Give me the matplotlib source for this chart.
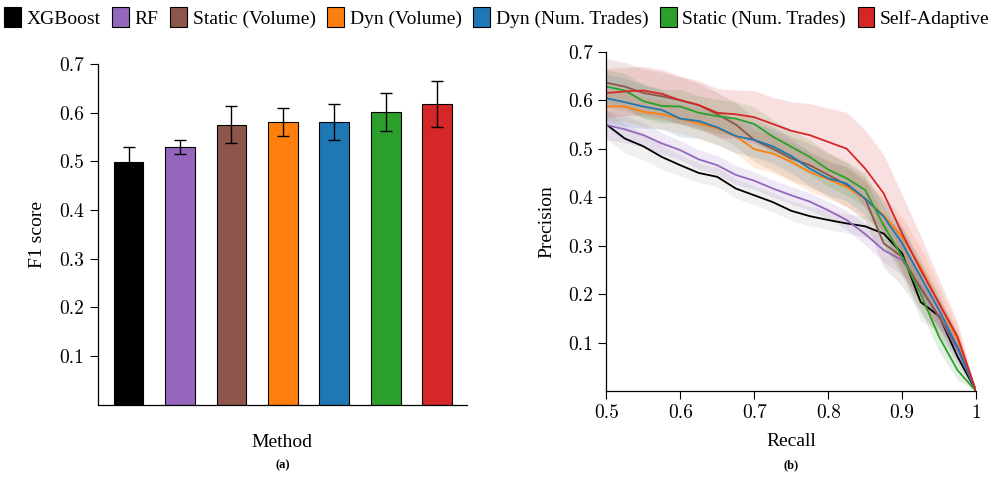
import numpy as np
import matplotlib.pyplot as plt
from matplotlib.patches import Patch

plt.rcParams['font.family'] = ['Liberation Serif', 'DejaVu Serif']
plt.rcParams['font.size'] = 14

# ---- data ----
methods = ["XGBoost", "RF", "Static (Volume)", "Dyn (Volume)",
           "Dyn (Num. Trades)", "Static (Num. Trades)", "Self-Adaptive"]
colors = ["black", "#9467bd", "#8c564b", "#ff7f0e", "#1f77b4", "#2ca02c", "#d62728"]

f1_mean = [0.499, 0.530, 0.576, 0.581, 0.581, 0.602, 0.618]
f1_err = [0.030, 0.014, 0.038, 0.028, 0.037, 0.039, 0.047]

recall = [0.5, 0.525, 0.55, 0.575, 0.6, 0.625, 0.65, 0.675, 0.7, 0.725, 0.75,
          0.775, 0.8, 0.825, 0.85, 0.875, 0.9, 0.925, 0.95, 0.975, 1.0]

prec_xgb = [0.550, 0.521, 0.505, 0.483, 0.466, 0.450, 0.442, 0.418, 0.404, 0.390, 0.372,
            0.361, 0.353, 0.346, 0.340, 0.325, 0.284, 0.184, 0.155, 0.071, 0.0]
prec_rf = [0.549, 0.540, 0.528, 0.511, 0.497, 0.478, 0.466, 0.446, 0.434, 0.418, 0.404,
           0.391, 0.373, 0.353, 0.324, 0.291, 0.270, 0.215, 0.153, 0.085, 0.0]
prec_stat_vol = [0.636, 0.628, 0.615, 0.608, 0.600, 0.590, 0.571, 0.550, 0.518, 0.500, 0.480,
                 0.466, 0.446, 0.425, 0.397, 0.305, 0.277, 0.212, 0.153, 0.091, 0.0]
prec_dyn_vol = [0.587, 0.587, 0.576, 0.571, 0.562, 0.552, 0.542, 0.526, 0.499, 0.490, 0.473,
                0.452, 0.437, 0.421, 0.397, 0.363, 0.318, 0.256, 0.181, 0.105, 0.0]
prec_dyn_num = [0.604, 0.596, 0.587, 0.580, 0.562, 0.557, 0.544, 0.526, 0.518, 0.505, 0.485,
                0.459, 0.439, 0.428, 0.397, 0.360, 0.305, 0.236, 0.167, 0.091, 0.0]
prec_stat_num = [0.628, 0.620, 0.598, 0.588, 0.587, 0.574, 0.567, 0.562, 0.551, 0.525, 0.504,
                 0.483, 0.457, 0.439, 0.415, 0.342, 0.277, 0.201, 0.112, 0.043, 0.0]
prec_self = [0.615, 0.618, 0.620, 0.613, 0.600, 0.590, 0.574, 0.571, 0.565, 0.551, 0.537,
             0.528, 0.514, 0.500, 0.459, 0.408, 0.325, 0.250, 0.181, 0.112, 0.0]

std_xgb = [0.030, 0.030, 0.028, 0.025, 0.022, 0.020, 0.020, 0.020, 0.020, 0.020, 0.020,
           0.020, 0.020, 0.020, 0.022, 0.025, 0.035, 0.040, 0.030, 0.020, 0.0]
std_rf = [0.030, 0.028, 0.025, 0.022, 0.020, 0.020, 0.020, 0.020, 0.018, 0.018, 0.018,
          0.018, 0.018, 0.020, 0.022, 0.025, 0.030, 0.030, 0.025, 0.020, 0.0]
std_stat_vol = [0.050, 0.050, 0.050, 0.050, 0.048, 0.045, 0.045, 0.045, 0.045, 0.045, 0.045,
                0.045, 0.045, 0.045, 0.045, 0.050, 0.060, 0.050, 0.040, 0.030, 0.0]
std_dyn_vol = [0.030, 0.030, 0.030, 0.030, 0.030, 0.032, 0.035, 0.035, 0.038, 0.040, 0.040,
               0.040, 0.040, 0.040, 0.040, 0.040, 0.040, 0.040, 0.035, 0.025, 0.0]
std_dyn_num = [0.050, 0.050, 0.045, 0.040, 0.038, 0.035, 0.035, 0.035, 0.035, 0.035, 0.035,
               0.035, 0.035, 0.035, 0.035, 0.035, 0.035, 0.035, 0.030, 0.025, 0.0]
std_stat_num = [0.035, 0.035, 0.035, 0.035, 0.035, 0.035, 0.035, 0.035, 0.035, 0.035, 0.035,
                0.035, 0.035, 0.035, 0.035, 0.040, 0.040, 0.035, 0.030, 0.020, 0.0]
std_self = [0.050, 0.050, 0.050, 0.050, 0.050, 0.050, 0.050, 0.050, 0.055, 0.055, 0.060,
            0.065, 0.070, 0.075, 0.080, 0.080, 0.080, 0.070, 0.050, 0.030, 0.0]

curves = [prec_xgb, prec_rf, prec_stat_vol, prec_dyn_vol, prec_dyn_num, prec_stat_num, prec_self]
stds = [std_xgb, std_rf, std_stat_vol, std_dyn_vol, std_dyn_num, std_stat_num, std_self]

ytick_vals = [0.1, 0.2, 0.3, 0.4, 0.5, 0.6, 0.7]
xtick_vals = [0.5, 0.6, 0.7, 0.8, 0.9, 1.0]
xtick_labels = ["0.5", "0.6", "0.7", "0.8", "0.9", "1"]

fig = plt.figure(figsize=(9.94, 4.86), dpi=100)
ax1 = fig.add_axes([0.0983, 0.167, 0.3715, 0.701])
ax2 = fig.add_axes([0.610, 0.195, 0.372, 0.6986])


def style_axes(ax):
    for s in ['top', 'right']:
        ax.spines[s].set_visible(False)
    for s in ['left', 'bottom']:
        ax.spines[s].set_linewidth(0.9)
    ax.tick_params(direction='out', length=6, width=0.8, labelsize=14,
                   labelfontfamily='cmr10')


# (a) bar chart
pos = np.arange(len(methods))
ax1.bar(pos, f1_mean, width=0.58, color=colors, edgecolor='black', linewidth=0.8,
        yerr=f1_err, error_kw=dict(ecolor='black', elinewidth=1.0, capsize=4, capthick=1.0))
ax1.set_xlim(-0.6, 6.58)
ax1.set_ylim(0, 0.7)
ax1.set_yticks(ytick_vals)
ax1.set_xticks([])
style_axes(ax1)
ax1.set_ylabel("F1 score", fontsize=14, labelpad=10)
ax1.set_xlabel("Method", fontsize=14, labelpad=21)

# (b) precision-recall
for prec, sd, c in zip(curves, stds, colors):
    p = np.array(prec)
    s = np.array(sd)
    fill_c = '0.6' if c == 'black' else c
    ax2.fill_between(recall, p - s, p + s, color=fill_c, alpha=0.14, linewidth=0)
for prec, c in zip(curves, colors):
    ax2.plot(recall, prec, color=c, linewidth=1.3)
ax2.set_xlim(0.5, 1.0)
ax2.set_ylim(0, 0.7)
ax2.set_yticks(ytick_vals)
ax2.set_xticks(xtick_vals)
ax2.set_xticklabels(xtick_labels)
style_axes(ax2)
ax2.set_ylabel("Precision", fontsize=14, labelpad=9)
ax2.set_xlabel("Recall", fontsize=14, labelpad=8)

fig.text(0.284, 0.043, "(a)", ha='center', va='center', fontsize=9, fontweight='bold')
fig.text(0.796, 0.043, "(b)", ha='center', va='center', fontsize=9, fontweight='bold')

handles = [Patch(facecolor=c, edgecolor='black', linewidth=0.8) for c in colors]
fig.legend(handles, methods, loc='upper center', bbox_to_anchor=(0.5, 1.01), ncol=7,
           frameon=False, fontsize=14, handlelength=0.85, handleheight=1.25,
           handletextpad=0.3, columnspacing=0.6, borderaxespad=0.2)

fig.savefig("out.png", dpi=100)
